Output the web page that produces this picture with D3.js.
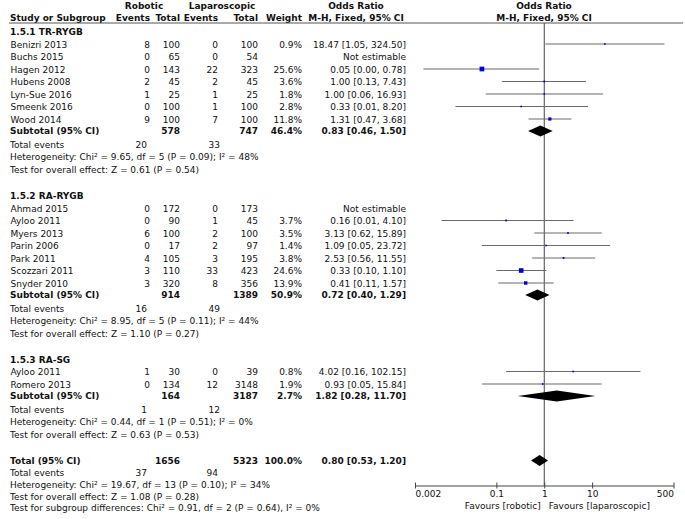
<!DOCTYPE html>
<html><head><meta charset="utf-8">
<script src="https://cdn.jsdelivr.net/npm/d3@7"></script>
<style>
body{margin:0;background:#fff}
svg text{font-family:"DejaVu Sans";font-size:9px;fill:#111}
</style>
</head><body>
<svg id="chart" width="685" height="519"></svg>
<script>
// ---------- data ----------
const sectionTitles = ["1.5.1 TR-RYGB", "1.5.2 RA-RYGB", "1.5.3 RA-SG"];
const studyNames = ["Benizri 2013","Buchs 2015","Hagen 2012","Hubens 2008","Lyn-Sue 2016","Smeenk 2016","Wood 2014",
  "Ahmad 2015","Ayloo 2011","Myers 2013","Parin 2006","Park 2011","Scozzari 2011","Snyder 2010",
  "Ayloo 2011","Romero 2013"];
const studyGroup = [0,0,0,0,0,0,0, 1,1,1,1,1,1,1, 2,2];
const robEvents = [8,0,0,2,1,0,9, 0,0,6,0,4,3,3, 1,0];
const robTotal  = [100,65,143,45,25,100,100, 172,90,100,17,105,110,320, 30,134];
const lapEvents = [0,0,22,2,1,1,7, 0,1,2,2,3,33,8, 0,12];
const lapTotal  = [100,54,323,45,25,100,100, 173,45,100,97,195,423,356, 39,3148];
const weights   = [0.9,null,25.6,3.6,1.8,2.8,11.8, null,3.7,3.5,1.4,3.8,24.6,13.9, 0.8,1.9];
const orEst     = [18.47,null,0.05,1.00,1.00,0.33,1.31, null,0.16,3.13,1.09,2.53,0.33,0.41, 4.02,0.93];
const ciLow     = [1.05,null,0.003,0.13,0.06,0.014,0.47, null,0.0072,0.62,0.05,0.56,0.10,0.11, 0.16,0.05];
const ciHigh    = [324.50,null,0.78,7.43,16.93,8.20,3.68, null,4.10,15.89,23.72,11.55,1.10,1.57, 102.15,15.84];

const subRobTotal  = [578, 914, 164];
const subLapTotal  = [747, 1389, 3187];
const subWeight    = [46.4, 50.9, 2.7];
const subOR        = [0.83, 0.72, 1.82];
const subLow       = [0.46, 0.40, 0.28];
const subHigh      = [1.50, 1.29, 11.70];
const subRobEvents = [20, 16, 1];
const subLapEvents = [33, 49, 12];
const subHet  = ["Heterogeneity: Chi² = 9.65, df = 5 (P = 0.09); I² = 48%",
                 "Heterogeneity: Chi² = 8.95, df = 5 (P = 0.11); I² = 44%",
                 "Heterogeneity: Chi² = 0.44, df = 1 (P = 0.51); I² = 0%"];
const subTest = ["Test for overall effect: Z = 0.61 (P = 0.54)",
                 "Test for overall effect: Z = 1.10 (P = 0.27)",
                 "Test for overall effect: Z = 0.63 (P = 0.53)"];

const totalRob = 1656, totalLap = 5323, totalWeight = 100.0;
const totalOR = 0.80, totalLow = 0.53, totalHigh = 1.20;
const totalRobEvents = 37, totalLapEvents = 94;
const totalHet = "Heterogeneity: Chi² = 19.67, df = 13 (P = 0.10); I² = 34%";
const totalTest = "Test for overall effect: Z = 1.08 (P = 0.28)";
const subgroupTest = "Test for subgroup differences: Chi² = 0.91, df = 2 (P = 0.64), I² = 0%";

const axisTicks = [0.002, 0.1, 1, 10, 500];
const axisTickLabels = ["0.002", "0.1", "1", "10", "500"];
const favourLeft = "Favours [robotic]", favourRight = "Favours [laparoscopic]";

// ---------- layout ----------
const svg = d3.select("#chart");
const f2 = d3.format(".2f"), f1 = d3.format(".1f");
const col = {name: 10, study: 10.5, robEv: 150, robTot: 180, lapEv: 218, lapTot: 258, wt: 302, orTxt: 406};
const x = d3.scaleLog().domain([0.002, 500]).range([415, 673.5]);
const boxSize = d3.scaleSqrt().domain([0, 25.6]).range([0, 4.7]);
const DH = 5.5;

function txt(xp, yp, s, anchor, bold) {
  svg.append("text").attr("x", xp).attr("y", yp).attr("dy", "0.36em")
    .attr("text-anchor", anchor || "start")
    .style("font-weight", bold ? "bold" : "normal").text(s);
}
function orText(o, l, h) { return o == null ? "Not estimable" : `${f2(o)} [${f2(l)}, ${f2(h)}]`; }
function diamond(yp, o, l, h) {
  svg.append("path").attr("d", `M${x(l)},${yp}L${x(o)},${yp-DH}L${x(h)},${yp}L${x(o)},${yp+DH}Z`).attr("fill", "#000");
}

// header
txt(144, 6, "Robotic", "middle", true);
txt(222, 6, "Laparoscopic", "middle", true);
txt(356, 6, "Odds Ratio", "middle", true);
txt(544, 6, "Odds Ratio", "middle", true);
txt(col.name, 17.5, "Study or Subgroup", "start", true);
txt(col.robEv, 17.5, "Events", "end", true);
txt(col.robTot, 17.5, "Total", "end", true);
txt(col.lapEv, 17.5, "Events", "end", true);
txt(col.lapTot, 17.5, "Total", "end", true);
txt(col.wt, 17.5, "Weight", "end", true);
txt(356, 17.5, "M-H, Fixed, 95% CI", "middle", true);
txt(544, 17.5, "M-H, Fixed, 95% CI", "middle", true);
svg.append("line").attr("x1", 9).attr("x2", 683).attr("y1", 23).attr("y2", 23).attr("stroke", "#555").attr("stroke-width", 1);

// vertical reference line
const axisY = 485.5;
svg.append("line").attr("x1", x(1)).attr("x2", x(1)).attr("y1", 23).attr("y2", axisY).attr("stroke", "#444").attr("stroke-width", 1);

let y = 32;
sectionTitles.forEach((title, gi) => {
  txt(col.name, y, title, "start", true);
  studyNames.forEach((nm, i) => {
    if (studyGroup[i] !== gi) return;
    y += 12.5;
    txt(col.study, y, nm);
    txt(col.robEv, y, robEvents[i], "end");
    txt(col.robTot, y, robTotal[i], "end");
    txt(col.lapEv, y, lapEvents[i], "end");
    txt(col.lapTot, y, lapTotal[i], "end");
    if (weights[i] != null) txt(col.wt, y, f1(weights[i]) + "%", "end");
    txt(col.orTxt, y, orText(orEst[i], ciLow[i], ciHigh[i]), "end");
    if (orEst[i] != null) {
      const yy = y - 0.5;
      svg.append("line").attr("x1", x(Math.max(ciLow[i], 0.002))).attr("x2", x(Math.min(ciHigh[i], 500)))
        .attr("y1", yy).attr("y2", yy).attr("stroke", "#6a6a6a").attr("stroke-width", 1.1);
      const s = Math.max(1.6, boxSize(weights[i]));
      svg.append("rect").attr("x", x(orEst[i]) - s/2).attr("y", yy - s/2).attr("width", s).attr("height", s).attr("fill", "#0000dd");
    }
  });
  y += 11.5;
  txt(col.name, y, "Subtotal (95% CI)", "start", true);
  txt(col.robTot, y, subRobTotal[gi], "end", true);
  txt(col.lapTot, y, subLapTotal[gi], "end", true);
  txt(col.wt, y, f1(subWeight[gi]) + "%", "end", true);
  txt(col.orTxt, y, orText(subOR[gi], subLow[gi], subHigh[gi]), "end", true);
  diamond(y, subOR[gi], subLow[gi], subHigh[gi]);
  y += 14;
  txt(col.name, y, "Total events");
  txt(col.robEv - 3, y, subRobEvents[gi], "end");
  txt(col.lapEv + 2, y, subLapEvents[gi], "end");
  y += 12;
  txt(col.name, y, subHet[gi]);
  y += 12.5;
  txt(col.name, y, subTest[gi]);
  y += (gi === 0 ? 26.5 : 26);
});

// overall
txt(col.name, y, "Total (95% CI)", "start", true);
txt(col.robTot, y, totalRob, "end", true);
txt(col.lapTot, y, totalLap, "end", true);
txt(col.wt, y, f1(totalWeight) + "%", "end", true);
txt(col.orTxt, y, orText(totalOR, totalLow, totalHigh), "end", true);
diamond(y, totalOR, totalLow, totalHigh);
y += 12.5;
txt(col.name, y, "Total events");
txt(col.robEv - 3, y, totalRobEvents, "end");
txt(col.lapEv, y, totalLapEvents, "end");
y += 11.7; txt(col.name, y, totalHet);
y += 11.7; txt(col.name, y, totalTest);
y += 11.7; txt(col.name, y, subgroupTest);

// axis
const ax = svg.append("g").attr("transform", `translate(0,${axisY})`)
  .call(d3.axisBottom(x).tickValues(axisTicks).tickSize(3).tickSizeOuter(0)
    .tickFormat((d, i) => axisTickLabels[i]));
ax.attr("font-family", null).attr("font-size", null);
ax.select(".domain").attr("stroke", "#444");
ax.selectAll(".tick line").attr("y1", -3).attr("y2", 3).attr("stroke", "#444");
ax.selectAll(".tick text").attr("y", 5.5).attr("fill", "#111")
  .attr("text-anchor", (d, i) => i === 0 ? "start" : (i === axisTicks.length - 1 ? "end" : "middle"));
txt(x(1) - 3.5, 506, favourLeft, "end");
txt(x(1) + 4.5, 506, favourRight, "start");
</script>
</body></html>
